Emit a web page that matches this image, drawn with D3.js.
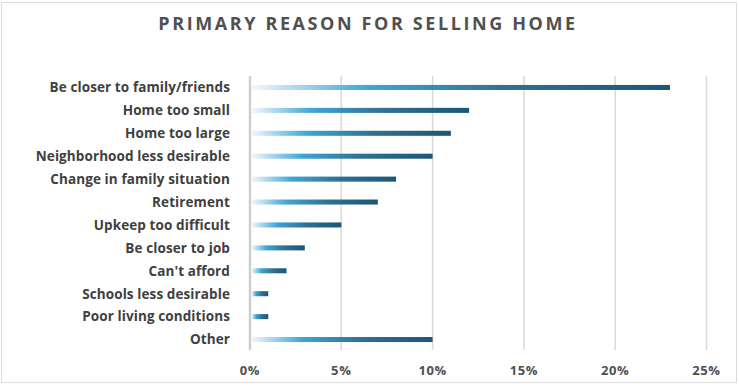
<!DOCTYPE html>
<meta charset="utf-8">
<style>
  body { margin: 0; background: #fff; }
  text { font-family: "Open Sans", "DejaVu Sans", sans-serif; }
</style>
<body>
<div id="chart"></div>
<script src="https://d3js.org/d3.v7.min.js"></script>
<script>
// data
var reasons = ["Be closer to family/friends", "Home too small", "Home too large",
  "Neighborhood less desirable", "Change in family situation", "Retirement",
  "Upkeep too difficult", "Be closer to job", "Can't afford",
  "Schools less desirable", "Poor living conditions", "Other"];
var shares = [23, 12, 11, 10, 8, 7, 5, 3, 2, 1, 1, 10];
var ticks = [0, 5, 10, 15, 20, 25];

var w = 739, h = 386;

var svg = d3.select("#chart").append("svg")
    .attr("width", w)
    .attr("height", h);

// frame
svg.append("rect")
    .attr("x", 1.5).attr("y", 2.5)
    .attr("width", 735).attr("height", 380)
    .attr("fill", "#fff")
    .attr("stroke", "#dcdcdc");

var grad = svg.append("defs").append("linearGradient")
    .attr("id", "barFill")
    .attr("x1", "0%").attr("x2", "100%")
    .attr("y1", "0%").attr("y2", "0%");
grad.append("stop").attr("offset", "0%").attr("stop-color", "#f2f8fb");
grad.append("stop").attr("offset", "28%").attr("stop-color", "#3ea5d6");
grad.append("stop").attr("offset", "62%").attr("stop-color", "#2f6f90");
grad.append("stop").attr("offset", "100%").attr("stop-color", "#1b5677");

var x = d3.scaleLinear().domain([0, 25]).range([250, 706.5]);
var y = d3.scaleBand().domain(reasons).range([76, 351]).paddingInner(0.78).paddingOuter(0.39);

// title
svg.append("text")
    .text("PRIMARY REASON FOR SELLING HOME")
    .attr("x", 368)
    .attr("y", 30)
    .attr("text-anchor", "middle")
    .attr("font-size", 18)
    .attr("font-weight", "bold")
    .attr("letter-spacing", 2.6)
    .attr("fill", "#505050");

// gridlines
svg.selectAll(".grid")
    .data(ticks)
    .enter()
    .append("line")
    .attr("class", "grid")
    .attr("x1", function(d) { return x(d); })
    .attr("x2", function(d) { return x(d); })
    .attr("y1", 76)
    .attr("y2", 350)
    .attr("stroke", function(d) { return d == 0 ? "#cfcfcf" : "#d9d9d9"; })
    .attr("stroke-width", function(d) { return d == 0 ? 2.5 : 1.5; });

// bars
svg.selectAll(".bar")
    .data(shares)
    .enter()
    .append("rect")
    .attr("class", "bar")
    .attr("x", x(0) + 1.5)
    .attr("y", function(d, i) { return y(reasons[i]); })
    .attr("width", function(d) { return x(d) - x(0) - 1.5; })
    .attr("height", y.bandwidth())
    .attr("fill", "url(#barFill)");

// category labels
svg.selectAll(".label")
    .data(reasons)
    .enter()
    .append("text")
    .attr("class", "label")
    .text(function(d) { return d; })
    .attr("x", 230)
    .attr("y", function(d) { return y(d) + y.bandwidth() / 2; })
    .attr("dy", "0.36em")
    .attr("text-anchor", "end")
    .attr("font-size", 13.5)
    .attr("font-weight", "bold")
    .attr("letter-spacing", 0.1)
    .attr("fill", "#404040");

// tick labels
svg.selectAll(".tick")
    .data(ticks)
    .enter()
    .append("text")
    .attr("class", "tick")
    .text(function(d) { return d + "%"; })
    .attr("x", function(d) { return x(d); })
    .attr("y", 375)
    .attr("text-anchor", "middle")
    .attr("font-size", 13)
    .attr("font-weight", "bold")
    .attr("letter-spacing", 0.6)
    .attr("fill", "#505050");
</script>
</body>
